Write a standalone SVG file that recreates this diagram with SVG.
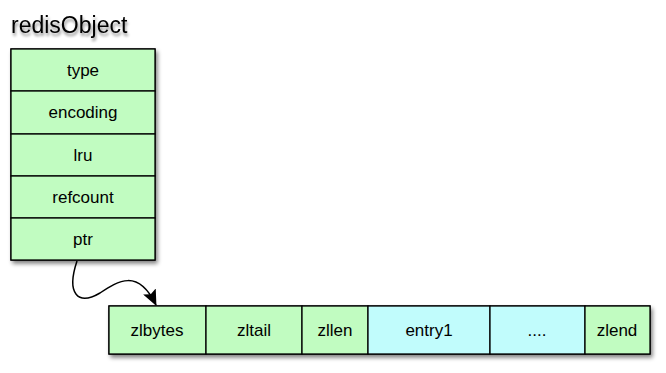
<svg xmlns="http://www.w3.org/2000/svg" width="666" height="373" viewBox="0 0 666 373">
<defs>
<filter id="sh" x="-10%" y="-10%" width="130%" height="130%">
<feGaussianBlur in="SourceAlpha" stdDeviation="2"/>
<feOffset dx="2" dy="3" result="b"/>
<feComponentTransfer><feFuncA type="linear" slope="0.5"/></feComponentTransfer>
<feMerge><feMergeNode/><feMergeNode in="SourceGraphic"/></feMerge>
</filter>
<filter id="tsh" x="-10%" y="-20%" width="130%" height="160%">
<feGaussianBlur in="SourceAlpha" stdDeviation="1.5"/>
<feOffset dx="1" dy="3"/>
<feComponentTransfer><feFuncA type="linear" slope="0.45"/></feComponentTransfer>
<feMerge><feMergeNode/><feMergeNode in="SourceGraphic"/></feMerge>
</filter>
<marker id="arr" markerWidth="16" markerHeight="14" refX="15" refY="7" orient="auto" markerUnits="userSpaceOnUse">
<path d="M0,0 L16,7 L0,14 L3,7 Z" fill="#000"/>
</marker>
</defs>
<style>
.g{fill:#c1fcc1;stroke:#000;stroke-width:1.3}
.c{fill:#c1fcfc;stroke:#000;stroke-width:1.3}
text{font-family:"Liberation Sans",Arial,sans-serif;font-size:17px;fill:#000;text-anchor:middle}
.t{font-size:23px;text-anchor:start}
</style>
<text class="t" x="11" y="33" filter="url(#tsh)">redisObject</text>
<g id="redisObject" filter="url(#sh)">
<rect class="g" x="11" y="49" width="144" height="211"/>
</g>
<g id="type"><rect class="g" x="11" y="49" width="144" height="42"/><text x="83" y="76">type</text></g>
<g id="encoding"><rect class="g" x="11" y="91" width="144" height="43"/><text x="83" y="118">encoding</text></g>
<g id="lru"><rect class="g" x="11" y="134" width="144" height="42"/><text x="83" y="161">lru</text></g>
<g id="refcount"><rect class="g" x="11" y="176" width="144" height="42"/><text x="83" y="203">refcount</text></g>
<g id="ptr"><rect class="g" x="11" y="218" width="144" height="42"/><text x="83" y="245">ptr</text></g>
<g id="ziplist-shadow" filter="url(#sh)">
<rect class="g" x="109" y="306" width="541" height="48"/>
</g>
<g id="zlbytes"><rect class="g" x="109" y="306" width="97" height="48"/><text x="157" y="336">zlbytes</text></g>
<g id="zltail"><rect class="g" x="206" y="306" width="96" height="48"/><text x="254" y="336">zltail</text></g>
<g id="zllen"><rect class="g" x="302" y="306" width="66" height="48"/><text x="335" y="336">zllen</text></g>
<g id="entry1"><rect class="c" x="368" y="306" width="122" height="48"/><text x="429" y="336">entry1</text></g>
<g id="dots"><rect class="c" x="490" y="306" width="95" height="48"/><text x="537" y="336">....</text></g>
<g id="zlend"><rect class="g" x="585" y="306" width="65" height="48"/><text x="617" y="336">zlend</text></g>
<g id="connectors">
<path d="M77,261 C66,294 78,306 100,293 C118,281 138,268 156,305" fill="none" stroke="#000" stroke-width="1.5" marker-end="url(#arr)"/>
</g>
</svg>
